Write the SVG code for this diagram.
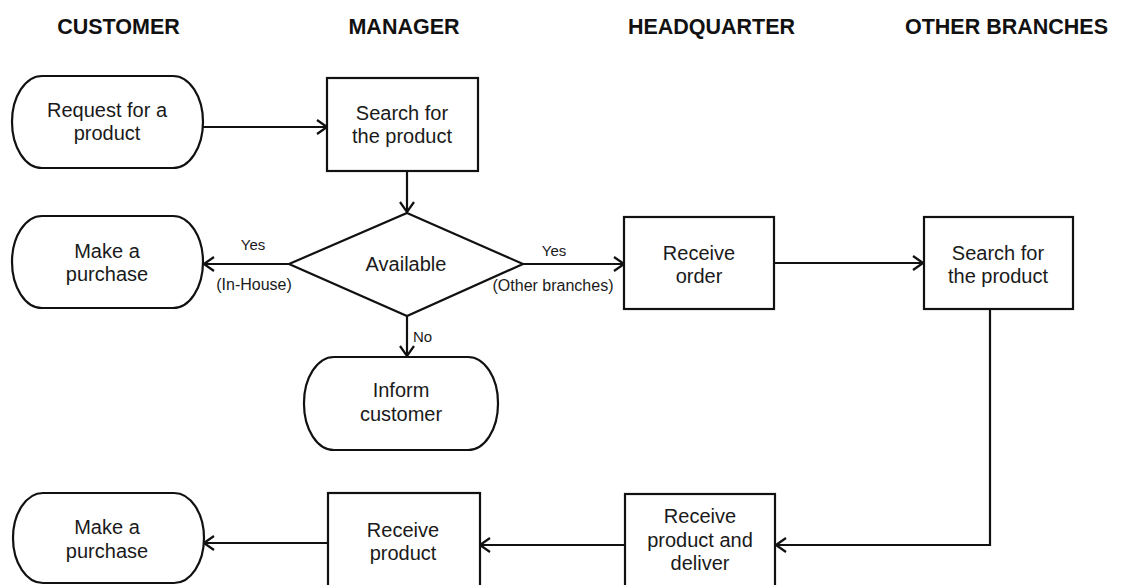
<svg xmlns="http://www.w3.org/2000/svg" width="1122" height="585" viewBox="0 0 1122 585">
<style>
.hdr{font-family:"Liberation Sans",Arial,sans-serif;font-weight:bold;font-size:21.5px;fill:#111;text-anchor:middle}
.lbl{font-family:"Liberation Sans",Arial,sans-serif;font-size:20px;fill:#1a1a1a;text-anchor:middle}
.sm{font-family:"Liberation Sans",Arial,sans-serif;font-size:15px;fill:#1a1a1a;text-anchor:middle}
.sm2{font-family:"Liberation Sans",Arial,sans-serif;font-size:16px;fill:#1a1a1a;text-anchor:middle}
.shape{fill:#fff;stroke:#111;stroke-width:2.2}
.conn{fill:none;stroke:#111;stroke-width:2.2;marker-end:url(#arr)}
</style>
<defs>
<marker id="arr" markerUnits="userSpaceOnUse" viewBox="0 0 12 16" refX="11" refY="8" markerWidth="12" markerHeight="16" orient="auto">
<path d="M1,1 L11,8 L1,15" fill="none" stroke="#111" stroke-width="2.2"/>
</marker>
</defs>
<rect width="1122" height="585" fill="#fff"/>
<g id="headers">
<text class="hdr" x="118.5" y="34">CUSTOMER</text>
<text class="hdr" x="404" y="34">MANAGER</text>
<text class="hdr" x="711.5" y="34">HEADQUARTER</text>
<text class="hdr" x="1006.5" y="34">OTHER BRANCHES</text>
</g>
<g id="connectors">
<path class="conn" d="M203,127 H327"/>
<path class="conn" d="M407,171 V212"/>
<path class="conn" d="M289,264 H204"/>
<path class="conn" d="M523,264 H624"/>
<path class="conn" d="M407,316 V356"/>
<path class="conn" d="M774,263 H923"/>
<path class="conn" d="M990,309 V545 H776"/>
<path class="conn" d="M625,545 H480"/>
<path class="conn" d="M328,543 H204"/>
<text class="sm" x="253" y="250">Yes</text>
<text class="sm2" x="254" y="290">(In-House)</text>
<text class="sm" x="554" y="256">Yes</text>
<text class="sm2" x="553" y="291">(Other branches)</text>
<text class="sm" x="413" y="342" style="text-anchor:start">No</text>
</g>
<g id="n-request">
<rect class="shape" x="12" y="76" width="191" height="92" rx="30" ry="46"/>
<text class="lbl" x="107" y="117">Request for a</text>
<text class="lbl" x="107" y="140">product</text>
</g>
<g id="n-search-mgr">
<rect class="shape" x="327" y="78" width="151" height="93"/>
<text class="lbl" x="402" y="120">Search for</text>
<text class="lbl" x="402" y="143">the product</text>
</g>
<g id="n-available">
<polygon class="shape" points="407,213 523,264 407,316 289,264"/>
<text class="lbl" x="406" y="271">Available</text>
</g>
<g id="n-purchase1">
<rect class="shape" x="12" y="216" width="191" height="92" rx="30" ry="46"/>
<text class="lbl" x="107" y="258">Make a</text>
<text class="lbl" x="107" y="281">purchase</text>
</g>
<g id="n-receive-order">
<rect class="shape" x="624" y="217" width="150" height="92"/>
<text class="lbl" x="699" y="260">Receive</text>
<text class="lbl" x="699" y="283">order</text>
</g>
<g id="n-search-branch">
<rect class="shape" x="924" y="217" width="149" height="92"/>
<text class="lbl" x="998" y="260">Search for</text>
<text class="lbl" x="998" y="283">the product</text>
</g>
<g id="n-inform">
<rect class="shape" x="304" y="357" width="194" height="93" rx="30" ry="46"/>
<text class="lbl" x="401" y="397">Inform</text>
<text class="lbl" x="401" y="421">customer</text>
</g>
<g id="n-purchase2">
<rect class="shape" x="13" y="493" width="191" height="90" rx="30" ry="45"/>
<text class="lbl" x="107" y="534">Make a</text>
<text class="lbl" x="107" y="558">purchase</text>
</g>
<g id="n-receive-product">
<rect class="shape" x="328" y="493" width="152" height="100"/>
<text class="lbl" x="403" y="537">Receive</text>
<text class="lbl" x="403" y="560">product</text>
</g>
<g id="n-deliver">
<rect class="shape" x="625" y="494" width="150" height="100"/>
<text class="lbl" x="700" y="523">Receive</text>
<text class="lbl" x="700" y="547">product and</text>
<text class="lbl" x="700" y="570">deliver</text>
</g>
</svg>
